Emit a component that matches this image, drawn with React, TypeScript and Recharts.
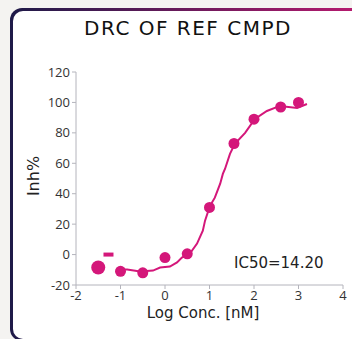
import React from 'react';
import {
  ScatterChart,
  Scatter,
  XAxis,
  YAxis,
} from 'recharts';

// measured response (log conc in nM, % inhibition)
const logConc = [-1.5, -1.0, -0.5, 0.0, 0.5, 1.0, 1.55, 2.0, 2.6, 3.0];
const inhPct = [-8.5, -11, -12, -2, 0.5, 31, 73, 89, 97, 100];

// stray replicate cap drawn near the first point
const capX = [-1.27];
const capY = [0];

// fitted curve
const fitX = [-1.08, -0.85, -0.56, -0.27, -0.11, 0.11, 0.27, 0.38, 0.56, 0.72, 0.85, 0.9, 1.01, 1.12, 1.24, 1.3, 1.35, 1.46, 1.57, 1.8, 2.02, 2.29, 2.58, 2.97, 3.19];
const fitY = [-9.8, -9.8, -11.1, -10.5, -8.5, -7.9, -5.2, -2, 0.7, 7.2, 15.7, 22.3, 32, 37.4, 46.6, 53, 56.4, 66.2, 72.8, 80, 89.2, 94.4, 97.7, 96.4, 99];

const xTicks = [-2, -1, 0, 1, 2, 3, 4];
const yTicks = [-20, 0, 20, 40, 60, 80, 100, 120];

const title = 'DRC OF REF CMPD';
const ic50Label = 'IC50=14.20';

const points = logConc.map((x, i) => ({ x, y: inhPct[i] }));
const caps = capX.map((x, i) => ({ x, y: capY[i] }));
const fit = fitX.map((x, i) => ({ x, y: fitY[i] }));

const PINK = '#d4177a';
const FONT = '"DejaVu Sans", sans-serif';
const TICK_FONT = '"Open Sans", sans-serif';

const Dot = (props: any) => {
  const { cx, cy, index } = props;
  const r = index === 0 ? 7 : 5.5;
  return <circle cx={cx} cy={cy} r={r} fill={PINK} />;
};

const Cap = (props: any) => {
  const { cx, cy } = props;
  return <rect x={cx - 5} y={cy - 2} width={10} height={4} fill={PINK} />;
};

const App: React.FC = () => {
  return (
    <div style={{ position: 'absolute', left: 0, top: 0, width: 352, height: 339, background: '#f4f3f1', overflow: 'hidden', fontFamily: FONT }}>
      <div style={{
        position: 'absolute', left: 10, top: 8, width: 380, height: 333,
        borderRadius: 12,
        background: 'linear-gradient(to right, #1e1a48, #c41a72)'
      }}>
        <div style={{ position: 'absolute', left: 2.5, top: 2.5, right: 0, bottom: 2.5, background: '#fff', borderRadius: 10 }} />
      </div>

      <div style={{ position: 'absolute', left: 0, top: 18, width: 376, textAlign: 'center', fontSize: 20, lineHeight: 1, letterSpacing: 1.5, color: '#111' }}>
        {title}
      </div>

      <div style={{ position: 'absolute', left: 0, top: 0 }}>
        <ScatterChart width={352} height={339} margin={{ top: 72, right: 9, bottom: 24, left: 36 }}>
          <XAxis
            type="number"
            dataKey="x"
            domain={[-2, 4]}
            ticks={xTicks}
            height={30}
            stroke="#b4b4bc"
            tick={{ fill: '#333', fontSize: 13, fontFamily: TICK_FONT }}
            tickSize={4}
          />
          <YAxis
            type="number"
            dataKey="y"
            domain={[-20, 120]}
            ticks={yTicks}
            width={40}
            stroke="#b4b4bc"
            tick={{ fill: '#333', fontSize: 13, fontFamily: TICK_FONT }}
            tickSize={4}
          />
          <Scatter
            data={fit}
            line={{ stroke: PINK, strokeWidth: 2 }}
            lineType="joint"
            shape={() => null}
            isAnimationActive={false}
          />
          <Scatter data={points} shape={<Dot />} isAnimationActive={false} />
          <Scatter data={caps} shape={<Cap />} isAnimationActive={false} />
        </ScatterChart>
      </div>

      <div style={{ position: 'absolute', left: 34, top: 176, transform: 'translate(-50%, -50%) rotate(-90deg)', fontSize: 16, lineHeight: 1, color: '#222', whiteSpace: 'nowrap' }}>
        Inh%
      </div>
      <div style={{ position: 'absolute', left: 120, top: 306, width: 166, textAlign: 'center', fontSize: 15, lineHeight: 1, color: '#222', whiteSpace: 'nowrap' }}>
        Log Conc. [nM]
      </div>
      <div style={{ position: 'absolute', left: 234, top: 256, fontSize: 15, lineHeight: 1, color: '#222', whiteSpace: 'nowrap' }}>
        {ic50Label}
      </div>
    </div>
  );
};

export default App;
